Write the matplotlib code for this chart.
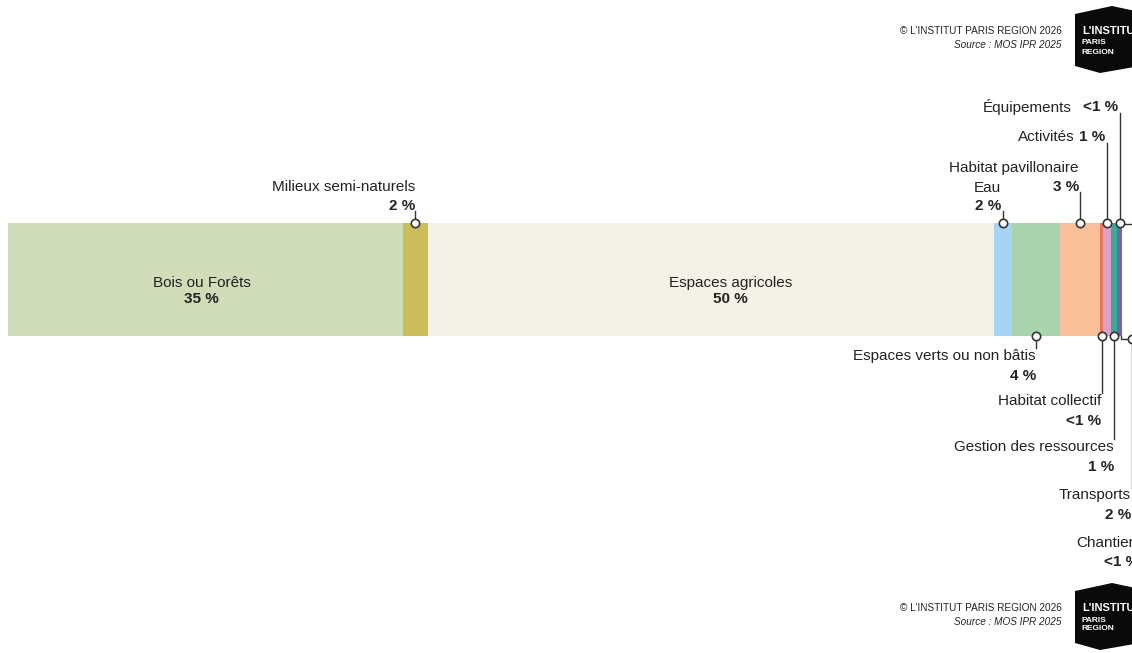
import matplotlib
matplotlib.use("Agg")
import matplotlib.pyplot as plt
from matplotlib.patches import Polygon
from matplotlib.transforms import offset_copy

# donnees : part de chaque mode d'occupation du sol (%)
categories = ["Bois ou Forêts", "Milieux semi-naturels", "Espaces agricoles", "Eau",
              "Espaces verts ou non bâtis", "Habitat pavillonaire", "Habitat collectif",
              "Activités", "Gestion des ressources", "Équipements"]
valeurs = [35.5, 2.2, 50.9, 1.6, 4.3, 3.6, 0.3, 0.7, 0.55, 0.45]
etiquettes = ["35 %", "2 %", "50 %", "2 %", "4 %", "3 %", "<1 %", "1 %", "1 %", "<1 %"]
couleurs = ["#d1dcb8", "#cbbd5a", "#f4f1e6", "#a6d4f2", "#a8d3ac",
            "#f8bf98", "#ec7462", "#d9a0c8", "#3aaa98", "#6a6aa8"]

# categories dont le segment sort du cadre
autres = ["Transports", "Chantier"]
autres_etiq = ["2 %", "<1 %"]

plt.rcParams["font.family"] = ["Liberation Sans", "DejaVu Sans"]
fig = plt.figure(figsize=(11.32, 6.53), dpi=100)
ax = fig.add_axes([0, 0, 1, 1])
px = 100 / 1113  # largeur d'un pixel en %
ax.set_xlim(-8 * px, (1132 - 8) * px)
ax.set_ylim(653, 0)
ax.axis("off")

# barre empilee
gauche = [sum(valeurs[:i]) for i in range(len(valeurs))]
ax.barh(279.5, valeurs, left=gauche, height=113, color=couleurs, linewidth=0)
centres = [g + v / 2 for g, v in zip(gauche, valeurs)]

coul_txt = "#222222"
fs = 11

def decal(dx):
    return offset_copy(ax.transData, fig=fig, x=dx, y=0, units="dots")

# etiquettes dans la barre
for i, dx in [(0, -4), (2, 20)]:
    ax.text(centres[i], 283, categories[i], ha="center", va="center", fontsize=fs,
            color=coul_txt, transform=decal(dx))
    ax.text(centres[i], 299, etiquettes[i], ha="center", va="center", fontsize=fs,
            fontweight="bold", color=coul_txt, transform=decal(dx))

def repere(x, y0, y1):
    ax.plot([x, x], [y0, y1], color="#333333", lw=1, zorder=3)
    ax.plot([x], [y1], marker="o", ms=6, mfc="white", mec="#333333", mew=1.2, zorder=4)

# etiquettes en haut sur deux lignes
haut = {1: (187, 206, 0), 3: (188, 206, -2), 5: (168, 187, -1)}
for i, (y_nom, y_pct, dx) in haut.items():
    ax.text(centres[i], y_nom, categories[i], ha="right", va="center", fontsize=fs,
            color=coul_txt, transform=decal(dx))
    ax.text(centres[i], y_pct, etiquettes[i], ha="right", va="center", fontsize=fs,
            fontweight="bold", color=coul_txt, transform=decal(dx))
    repere(centres[i], y_pct + 5, 223)

# etiquettes en haut sur une ligne
ligne = {7: (137, -2, -32), 9: (107, -1, -48)}
for i, (y, dx, dx_nom) in ligne.items():
    ax.text(centres[i], y, etiquettes[i], ha="right", va="center", fontsize=fs,
            fontweight="bold", color=coul_txt, transform=decal(dx))
    ax.text(centres[i], y, categories[i], ha="right", va="center", fontsize=fs,
            color=coul_txt, transform=decal(dx_nom))
    repere(centres[i], y + 6, 223)
ax.plot([centres[9], 102], [223.5, 223.5], color="#333333", lw=1, zorder=2)

# etiquettes en bas
bas = {4: (356, 376, 0), 6: (401, 421, 0), 8: (447, 467, 0)}
for i, (y_nom, y_pct, dx) in bas.items():
    ax.text(centres[i], y_nom, categories[i], ha="right", va="center", fontsize=fs,
            color=coul_txt, transform=decal(dx))
    ax.text(centres[i], y_pct, etiquettes[i], ha="right", va="center", fontsize=fs,
            fontweight="bold", color=coul_txt, transform=decal(dx))
    repere(centres[i], y_nom - 8, 336)

# transports et chantier (segments hors cadre)
fin = sum(valeurs)
x_tr = fin + 10 * px
ax.plot([fin - 0.1, fin - 0.1, x_tr], [336, 339, 339], color="#333333", lw=1, zorder=2)
ax.plot([x_tr, x_tr], [339, 488], color="#333333", lw=1, zorder=3)
ax.plot([x_tr], [339], marker="o", ms=6, mfc="white", mec="#333333", mew=1.2, zorder=4)
ax.text(x_tr, 495, autres[0], ha="right", va="center", fontsize=fs, color=coul_txt,
        transform=decal(-1))
ax.text(x_tr, 515, autres_etiq[0], ha="right", va="center", fontsize=fs,
        fontweight="bold", color=coul_txt, transform=decal(-1))
ax.text(x_tr, 543, autres[1], ha="left", va="center", fontsize=fs, color=coul_txt,
        transform=decal(-56))
ax.text(x_tr, 562, autres_etiq[1], ha="left", va="center", fontsize=fs,
        fontweight="bold", color=coul_txt, transform=decal(-28))

# credits et logo (haut et bas)
for y0 in [0, 577]:
    fig.text(1062 / 1132, 1 - (31 + y0) / 653, "© L'INSTITUT PARIS REGION 2026", ha="right",
             va="center", fontsize=7.2, color="#222222")
    fig.text(1062 / 1132, 1 - (45 + y0) / 653, "Source : MOS IPR 2025", ha="right",
             va="center", fontsize=7.2, style="italic", color="#222222")
    pts = [(1075, 14), (1112, 6), (1140, 12), (1140, 66), (1100, 73), (1075, 66)]
    logo = Polygon([(x / 1132, 1 - (y + y0) / 653) for x, y in pts], closed=True,
                   facecolor="#0a0a0a", edgecolor="none", transform=fig.transFigure)
    fig.patches.append(logo)
    fig.text(1082 / 1132, 1 - (31 + y0) / 653, "L'INSTITUT", ha="left", va="center",
             fontsize=8, fontweight="bold", color="white")
    fig.text(1082 / 1132, 1 - (43 + y0) / 653, "PARIS", ha="left", va="center",
             fontsize=6, fontweight="bold", color="white")
    fig.text(1082 / 1132, 1 - (52 + y0) / 653, "REGION", ha="left", va="center",
             fontsize=6, fontweight="bold", color="white")

plt.savefig("out.png", dpi=100)
